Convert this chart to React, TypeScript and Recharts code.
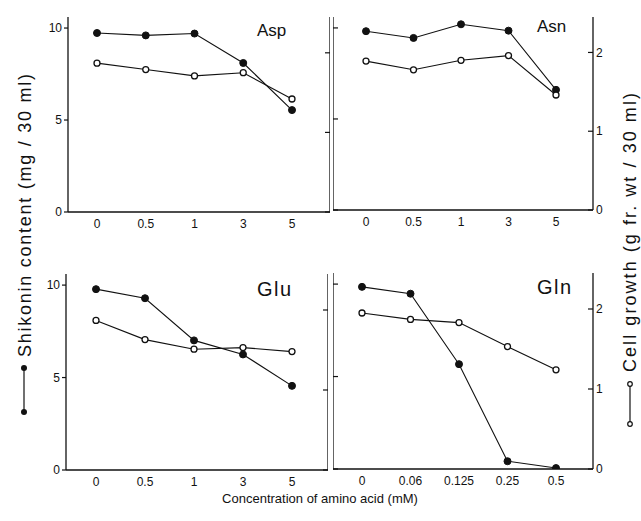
import { LineChart, Line, XAxis, YAxis } from "recharts";

// concentrations (mM) on the x axis
const aspConc = ["0", "0.5", "1", "3", "5"];
const asnConc = ["0", "0.5", "1", "3", "5"];
const gluConc = ["0", "0.5", "1", "3", "5"];
const glnConc = ["0", "0.06", "0.125", "0.25", "0.5"];

// shikonin content (mg / 30 ml), filled circles, left axis
const aspShikonin = [9.73, 9.6, 9.7, 8.1, 5.54];
const asnShikonin = [9.82, 9.45, 10.2, 9.85, 6.6];
const gluShikonin = [9.78, 9.29, 7.01, 6.25, 4.55];
const glnShikonin = [9.85, 9.48, 5.67, 0.42, 0.05];

// cell growth (g fr. wt / 30 ml), open circles, right axis
const aspGrowth = [1.87, 1.79, 1.71, 1.75, 1.42];
const asnGrowth = [1.89, 1.78, 1.9, 1.96, 1.46];
const gluGrowth = [1.87, 1.63, 1.51, 1.53, 1.48];
const glnGrowth = [1.95, 1.87, 1.83, 1.53, 1.24];

const leftTicks = [0, 5, 10];
const rightTicks = [0, 1, 2];

const FONT = "'Liberation Sans', Arial, sans-serif";
const INK = "#111";

function toRows(conc: string[], shikonin: number[], growth: number[]) {
  return conc.map((c, i) => ({ conc: c, shikonin: shikonin[i], growth: growth[i] }));
}

// right axis tick: short mark pointing into the plot, label just outside
function InwardRightTick(props: any) {
  const { x, y, payload } = props;
  const ax = x - 3;
  return (
    <g>
      <line x1={ax - 5} y1={y} x2={ax} y2={y} stroke={INK} strokeWidth={1.2} />
      <text x={x} y={y} dy="0.355em" fontSize={12} fill={INK} fontFamily={FONT}>
        {payload.value}
      </text>
    </g>
  );
}

interface PanelProps {
  x: number;
  y: number;
  w: number;
  h: number;
  top: number;
  leftW: number;
  rightW: number;
  pad: { left: number; right: number };
  labelLeft: boolean;
  conc: string[];
  shikonin: number[];
  growth: number[];
}

function Panel(p: PanelProps) {
  const data = toRows(p.conc, p.shikonin, p.growth);
  const axisLine = { stroke: INK, strokeWidth: 1.3 };
  const tick = { fontSize: 12, fill: INK, fontFamily: FONT };
  return (
    <div style={{ position: "absolute", left: p.x, top: p.y }}>
      <LineChart
        width={p.w}
        height={p.h}
        data={data}
        margin={{ top: p.top, right: 0, left: 0, bottom: 0 }}
      >
        <XAxis
          dataKey="conc"
          height={24}
          padding={p.pad}
          tickLine={false}
          tickSize={5}
          axisLine={axisLine}
          tick={tick}
          interval={0}
        />
        <YAxis
          yAxisId="s"
          orientation="left"
          width={p.leftW}
          domain={[0, 10.6]}
          ticks={leftTicks}
          allowDataOverflow
          axisLine={axisLine}
          tickLine={{ stroke: INK, strokeWidth: 1.2 }}
          tickSize={p.labelLeft ? 4 : 5}
          mirror={!p.labelLeft}
          tickFormatter={p.labelLeft ? undefined : () => ""}
          tick={tick}
        />
        {p.labelLeft ? (
          <YAxis
            yAxisId="g"
            orientation="right"
            width={p.rightW}
            domain={[0, 2.45]}
            ticks={rightTicks}
            allowDataOverflow
            axisLine={axisLine}
            tickLine={{ stroke: INK, strokeWidth: 1.2 }}
            tickSize={5}
            mirror
            tickFormatter={() => ""}
            tick={tick}
          />
        ) : (
          <YAxis
            yAxisId="g"
            orientation="right"
            width={p.rightW}
            domain={[0, 2.45]}
            ticks={rightTicks}
            allowDataOverflow
            axisLine={axisLine}
            tickLine={false}
            tickSize={0}
            tickMargin={3}
            tick={<InwardRightTick />}
          />
        )}
        <Line
          yAxisId="s"
          dataKey="shikonin"
          type="linear"
          stroke={INK}
          strokeWidth={1.1}
          dot={{ r: 3.5, fill: INK, stroke: INK, strokeWidth: 1 }}
          isAnimationActive={false}
        />
        <Line
          yAxisId="g"
          dataKey="growth"
          type="linear"
          stroke={INK}
          strokeWidth={1.1}
          dot={{ r: 3, fill: "#fff", stroke: INK, strokeWidth: 1.3 }}
          isAnimationActive={false}
        />
      </LineChart>
    </div>
  );
}

export default function App() {
  return (
    <div
      style={{
        position: "absolute",
        left: 0,
        top: 0,
        width: 641,
        height: 521,
        background: "#fff",
        fontFamily: FONT,
      }}
    >
      <Panel x={30} y={0} w={300} h={236} top={17} leftW={38} rightW={10}
        pad={{ left: 29, right: 38 }} labelLeft conc={aspConc} shikonin={aspShikonin} growth={aspGrowth} />
      <Panel x={333} y={0} w={290} h={234} top={17} leftW={10} rightW={30}
        pad={{ left: 33, right: 37 }} labelLeft={false} conc={asnConc} shikonin={asnShikonin} growth={asnGrowth} />
      <Panel x={28} y={250} w={300} h={244} top={24} leftW={38} rightW={10}
        pad={{ left: 30, right: 36 }} labelLeft conc={gluConc} shikonin={gluShikonin} growth={gluGrowth} />
      <Panel x={333} y={250} w={290} h={243} top={23} leftW={10} rightW={30}
        pad={{ left: 29, right: 37 }} labelLeft={false} conc={glnConc} shikonin={glnShikonin} growth={glnGrowth} />

      {/* titles and shared axis labels */}
      <svg
        width={641}
        height={521}
        style={{ position: "absolute", left: 0, top: 0, pointerEvents: "none" }}
        fontFamily={FONT}
        fill={INK}
      >
        <text x={257} y={36} fontSize={17}>Asp</text>
        <text x={537} y={32} fontSize={17}>Asn</text>
        <text x={257} y={296} fontSize={20} letterSpacing={1.5}>Glu</text>
        <text x={537} y={294} fontSize={20} letterSpacing={1.5}>Gln</text>

        {/* left label with filled-circle key */}
        <line x1={24} y1={368} x2={24} y2={412} stroke={INK} strokeWidth={1.2} />
        <circle cx={24} cy={368} r={3} fill={INK} />
        <circle cx={24} cy={412} r={3} fill={INK} />
        <text transform="translate(31,357) rotate(-90)" fontSize={18} textLength={283} lengthAdjust="spacing">
          Shikonin content (mg / 30 ml)
        </text>

        {/* right label with open-circle key */}
        <line x1={630} y1={384} x2={630} y2={424} stroke={INK} strokeWidth={1.2} />
        <circle cx={630} cy={384} r={2.3} fill="#fff" stroke={INK} strokeWidth={1.2} />
        <circle cx={630} cy={424} r={2.3} fill="#fff" stroke={INK} strokeWidth={1.2} />
        <text transform="translate(636,372) rotate(-90)" fontSize={18} textLength={279} lengthAdjust="spacing">
          Cell growth (g fr. wt / 30 ml)
        </text>

        <text x={320} y={503} fontSize={13} textAnchor="middle">
          Concentration of amino acid (mM)
        </text>
      </svg>
    </div>
  );
}
